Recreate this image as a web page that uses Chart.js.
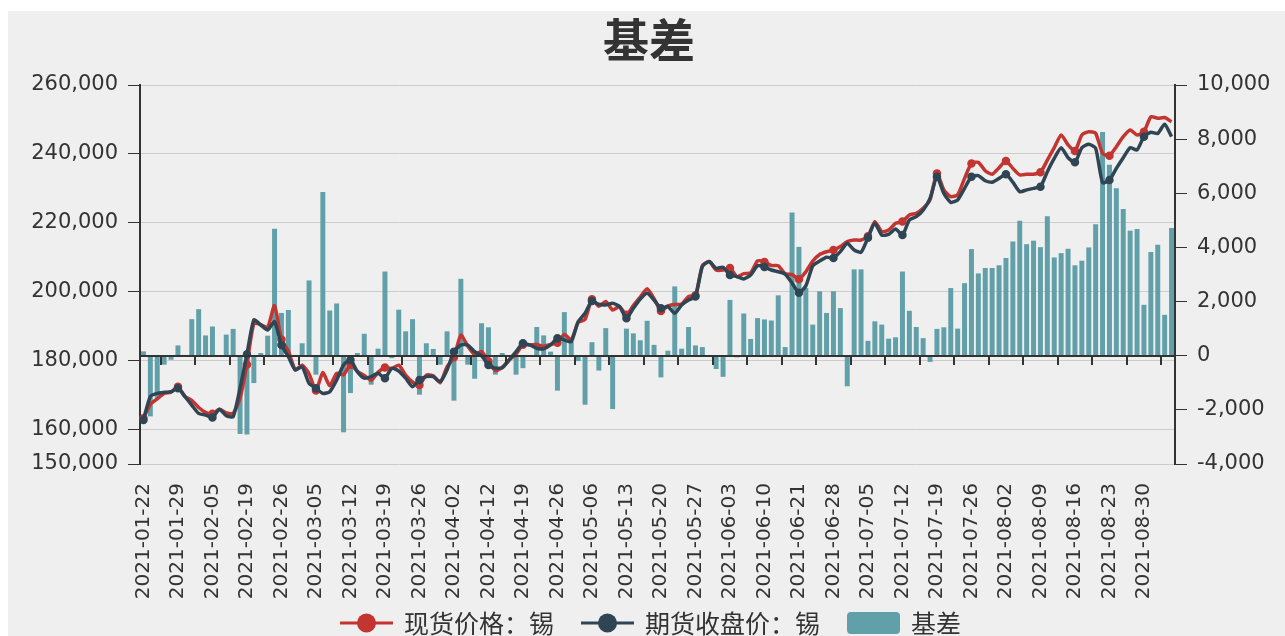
<!DOCTYPE html>
<html>
<head>
<meta charset="utf-8">
<title>基差</title>
<script src="https://cdn.jsdelivr.net/npm/chart.js@4.4.1/dist/chart.umd.min.js"></script>
<style>
  html, body { margin: 0; padding: 0; background: #fff; }
  #wrap { width: 1285px; height: 636px; }
</style>
</head>
<body>
<div id="wrap"><canvas id="chart" width="1285" height="636"></canvas></div>
<script>
// trading days shown on the category axis
const dates = [
  '2021-01-22','2021-01-25','2021-01-26','2021-01-27','2021-01-28','2021-01-29',
  '2021-02-01','2021-02-02','2021-02-03','2021-02-04','2021-02-05',
  '2021-02-08','2021-02-09','2021-02-10','2021-02-18','2021-02-19',
  '2021-02-22','2021-02-23','2021-02-24','2021-02-25','2021-02-26',
  '2021-03-01','2021-03-02','2021-03-03','2021-03-04','2021-03-05',
  '2021-03-08','2021-03-09','2021-03-10','2021-03-11','2021-03-12',
  '2021-03-15','2021-03-16','2021-03-17','2021-03-18','2021-03-19',
  '2021-03-22','2021-03-23','2021-03-24','2021-03-25','2021-03-26',
  '2021-03-29','2021-03-30','2021-03-31','2021-04-01','2021-04-02',
  '2021-04-06','2021-04-07','2021-04-08','2021-04-09','2021-04-12',
  '2021-04-13','2021-04-14','2021-04-15','2021-04-16','2021-04-19',
  '2021-04-20','2021-04-21','2021-04-22','2021-04-23','2021-04-26',
  '2021-04-27','2021-04-28','2021-04-29','2021-04-30','2021-05-06',
  '2021-05-07','2021-05-10','2021-05-11','2021-05-12','2021-05-13',
  '2021-05-14','2021-05-17','2021-05-18','2021-05-19','2021-05-20',
  '2021-05-21','2021-05-24','2021-05-25','2021-05-26','2021-05-27',
  '2021-05-28','2021-05-31','2021-06-01','2021-06-02','2021-06-03',
  '2021-06-04','2021-06-07','2021-06-08','2021-06-09','2021-06-10',
  '2021-06-11','2021-06-15','2021-06-16','2021-06-17','2021-06-21',
  '2021-06-22','2021-06-23','2021-06-24','2021-06-25','2021-06-28',
  '2021-06-29','2021-06-30','2021-07-01','2021-07-02','2021-07-05',
  '2021-07-06','2021-07-07','2021-07-08','2021-07-09','2021-07-12',
  '2021-07-13','2021-07-14','2021-07-15','2021-07-16','2021-07-19',
  '2021-07-20','2021-07-21','2021-07-22','2021-07-23','2021-07-26',
  '2021-07-27','2021-07-28','2021-07-29','2021-07-30','2021-08-02',
  '2021-08-03','2021-08-04','2021-08-05','2021-08-06','2021-08-09',
  '2021-08-10','2021-08-11','2021-08-12','2021-08-13','2021-08-16',
  '2021-08-17','2021-08-18','2021-08-19','2021-08-20','2021-08-23',
  '2021-08-24','2021-08-25','2021-08-26','2021-08-27','2021-08-30',
  '2021-08-31','2021-09-01','2021-09-02','2021-09-03'
];

// 现货价格：锡
const spotPrice = [
  163300,167300,168900,170500,170850,172400,169600,168500,166400,165000,
  164600,165900,164800,164700,169100,178900,190800,190450,189650,196000,
  186100,182800,177300,178700,176200,171300,176550,172700,176300,175900,
  178800,176900,175700,174300,176600,178000,177700,178700,175800,173800,
  172950,175800,175600,173600,178200,180950,187400,184200,181750,182650,
  179800,177100,178050,180150,181900,184600,184550,184650,184150,184700,
  185200,187600,186050,191100,191950,197800,195800,197150,194700,195700,
  193300,196000,198450,200850,198000,194400,195900,196300,196400,198650,
  198950,207600,208750,206300,206300,206900,204350,205250,205500,208950,
  208650,207600,207550,205200,205000,203650,205800,208900,210800,211600,
  212100,213100,214550,215000,215000,216100,220350,217450,217900,219850,
  220350,222300,222750,224200,226650,234350,229550,227600,228100,232900,
  237250,237550,235100,234100,236000,237950,235800,233900,234100,234100,
  234650,238200,241800,245500,242600,240850,245500,246450,246000,240150,
  239500,242100,245000,246950,245500,246450,250800,250350,250550,249350
];

// 期货收盘价：锡
const futuresClose = [
  162800,169600,170500,170800,171000,172000,169600,167100,164700,164200,
  163500,165900,164000,163750,172000,181850,191800,190350,188900,191300,
  184550,181150,177300,178250,173400,172000,170500,171000,174400,178750,
  180200,176800,174900,175350,176350,174900,177800,177000,174900,172450,
  174400,175350,175350,173900,177300,182600,184550,184550,182600,181450,
  178750,177800,177950,180200,182600,185050,184550,183600,183400,184550,
  186500,186000,185500,191300,193750,197300,196350,196150,196650,195700,
  192300,195200,197900,199550,197600,195200,195700,193750,196150,197600,
  198600,207300,208750,206800,207100,204850,204400,203700,204850,207550,
  207200,206300,205800,205100,202500,199700,201700,207500,208900,210000,
  209800,211650,214050,212100,211450,215700,219850,216450,216650,218200,
  216450,220800,221800,223700,227100,233400,228550,225950,226650,230000,
  233400,233700,232200,231800,232900,234100,231800,229050,229550,230000,
  230500,234850,238700,241800,238900,237550,241800,242800,241650,231650,
  232400,235800,238900,241800,241150,245000,246300,245950,248600,245000
];

// 基差
const basis = [
  160,-2240,-1560,-330,-150,380,30,1350,1720,750,
  1080,20,780,990,-2890,-2910,-1010,100,740,4690,
  1580,1690,30,460,2780,-700,6050,1670,1930,-2830,
  -1380,100,810,-1070,260,3110,-90,1700,900,1350,
  -1440,460,250,-330,900,-1660,2840,-330,-850,1200,
  1050,-700,100,-50,-700,-460,20,1060,750,150,
  -1290,1610,530,-200,-1810,500,-550,1020,-1970,20,
  1000,825,570,1290,400,-800,185,2560,260,1060,
  380,320,20,-490,-780,2060,-60,1560,620,1390,
  1340,1300,2230,320,5290,4020,2500,1150,2380,1580,
  2380,1760,-1130,3190,3190,550,1270,1150,630,680,
  3110,1660,1060,650,-230,990,1050,2500,1000,2680,
  3940,3040,3240,3240,3340,3610,4220,4990,4120,4250,
  4010,5150,3630,3790,3950,3340,3510,4000,4860,8260,
  7050,6190,5420,4620,4680,1880,3830,4100,1510,4720
];

const leftTicks = [150000, 160000, 180000, 200000, 220000, 240000, 260000];
const rightTicks = [-4000, -2000, 0, 2000, 4000, 6000, 8000, 10000];

const RED = '#c23531', NAVY = '#2f4554', TEAL = '#61a0a8', TXT = '#333';
const numFont = { family: 'DejaVu Sans', size: 21 };
const cjk = '"Noto Sans CJK SC", "Noto Sans", sans-serif';

// background, zero axis, title, legend
const decor = {
  id: 'decor',
  beforeDraw(chart) {
    const ctx = chart.ctx;
    ctx.save();
    ctx.fillStyle = '#fff';
    ctx.fillRect(0, 0, chart.width, chart.height);
    ctx.fillStyle = '#efefef';
    ctx.fillRect(8, 11, chart.width - 8, chart.height - 11);
    ctx.restore();
  },
  afterDatasetsDraw(chart) {
    const ctx = chart.ctx, area = chart.chartArea;
    const x = chart.scales.x, yR = chart.scales.yR;
    const y0 = Math.round(yR.getPixelForValue(0));
    const band = (area.right - area.left) / dates.length;
    ctx.save();
    ctx.strokeStyle = TXT;
    ctx.lineWidth = 2;
    ctx.beginPath();
    ctx.moveTo(area.left, y0);
    ctx.lineTo(area.right, y0);
    for (let k = 3; k < dates.length; k += 5) {
      const px = Math.round(x.getPixelForValue(k) - band / 2);
      ctx.moveTo(px, y0);
      ctx.lineTo(px, y0 + 9);
    }
    ctx.stroke();
    ctx.restore();
  },
  afterDraw(chart) {
    const ctx = chart.ctx;
    ctx.save();
    ctx.fillStyle = TXT;
    ctx.textAlign = 'center';
    ctx.textBaseline = 'middle';
    ctx.font = 'bold 46px ' + cjk;
    ctx.fillText('基差', 649, 40);

    // legend
    ctx.font = '25px ' + cjk;
    ctx.textAlign = 'left';
    const ly = 623;
    let lx = 340;
    const items = [
      { text: '现货价格：锡', color: RED, kind: 'line' },
      { text: '期货收盘价：锡', color: NAVY, kind: 'line' },
      { text: '基差', color: TEAL, kind: 'rect' }
    ];
    items.forEach(it => {
      if (it.kind === 'line') {
        ctx.strokeStyle = it.color;
        ctx.lineWidth = 3;
        ctx.beginPath();
        ctx.moveTo(lx, ly);
        ctx.lineTo(lx + 53, ly);
        ctx.stroke();
        ctx.fillStyle = it.color;
        ctx.beginPath();
        ctx.arc(lx + 26.5, ly, 9.5, 0, Math.PI * 2);
        ctx.fill();
      } else {
        ctx.fillStyle = it.color;
        ctx.beginPath();
        ctx.roundRect(lx, ly - 11, 53, 22, 4);
        ctx.fill();
      }
      ctx.fillStyle = TXT;
      ctx.fillText(it.text, lx + 64, ly);
      lx += 64 + ctx.measureText(it.text).width + 27;
    });
    ctx.restore();
  }
};

new Chart(document.getElementById('chart'), {
  type: 'bar',
  data: {
    labels: dates,
    datasets: [
      {
        type: 'line', label: '现货价格：锡', data: spotPrice, yAxisID: 'yL',
        borderColor: RED, backgroundColor: RED, borderWidth: 3.5, tension: 0.2,
        pointRadius: c => (c.dataIndex % 5 === 0 ? 2.5 : 0), pointHoverRadius: 0,
        order: 2
      },
      {
        type: 'line', label: '期货收盘价：锡', data: futuresClose, yAxisID: 'yL',
        borderColor: NAVY, backgroundColor: NAVY, borderWidth: 3.5, tension: 0.2,
        pointRadius: c => (c.dataIndex % 5 === 0 ? 2.5 : 0), pointHoverRadius: 0,
        order: 1
      },
      {
        type: 'bar', label: '基差', data: basis, yAxisID: 'yR',
        backgroundColor: TEAL, categoryPercentage: 1, barPercentage: 0.72,
        order: 3
      }
    ]
  },
  options: {
    responsive: false,
    animation: false,
    devicePixelRatio: 1,
    layout: { padding: { top: 85, left: 0, right: 0, bottom: 0 } },
    plugins: { legend: { display: false }, title: { display: false }, tooltip: { enabled: false } },
    scales: {
      x: {
        offset: true,
        grid: { display: false, drawTicks: false },
        border: { display: false },
        ticks: {
          autoSkip: false, minRotation: 90, maxRotation: 90, padding: 19,
          color: TXT, font: { family: 'DejaVu Sans', size: 20 },
          callback: (v, i) => (i % 5 === 0 ? dates[i] : '')
        },
        afterFit: s => { s.height = 172; }
      },
      yL: {
        position: 'left', min: 150000, max: 260000,
        afterBuildTicks: s => { s.ticks = leftTicks.map(v => ({ value: v })); },
        grid: { color: '#cccccc', lineWidth: 1, tickColor: TXT, tickLength: 12 },
        border: { color: TXT, width: 2 },
        ticks: { padding: 10, color: TXT, font: numFont, callback: v => v.toLocaleString('en-US') },
        afterFit: s => { s.width = 140; }
      },
      yR: {
        position: 'right', min: -4000, max: 10000,
        afterBuildTicks: s => { s.ticks = rightTicks.map(v => ({ value: v })); },
        grid: { drawOnChartArea: false, tickColor: TXT, tickLength: 12 },
        border: { color: TXT, width: 2 },
        ticks: { padding: 10, color: TXT, font: numFont, callback: v => v.toLocaleString('en-US') },
        afterFit: s => { s.width = 110; }
      }
    }
  },
  plugins: [decor]
});
</script>
</body>
</html>
